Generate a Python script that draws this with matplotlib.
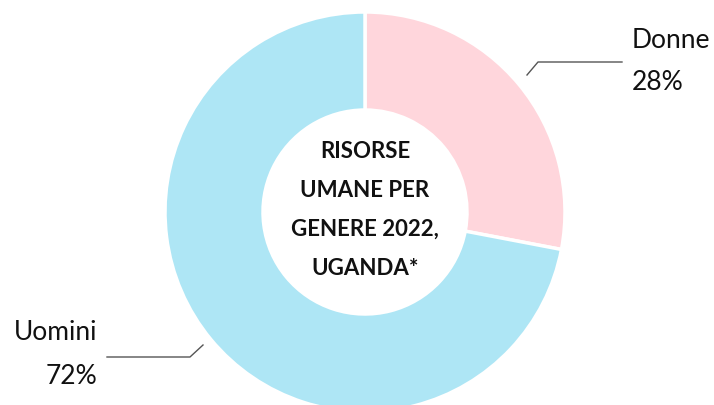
import matplotlib.pyplot as plt

# Risorse umane per genere, Uganda 2022
categorie = ['Donne', 'Uomini']
percentuali = [28, 72]
colori = ['#FFD6DC', '#AEE6F5']
titolo = 'RISORSE\nUMANE PER\nGENERE 2022,\nUGANDA*'

W, H = 714, 405
fig = plt.figure(figsize=(W / 100, H / 100), dpi=100)
ax = fig.add_axes([0, 0, 1, 1])
ax.set_xlim(0, W)
ax.set_ylim(0, H)
ax.set_aspect('equal')
ax.axis('off')

cx, cy, r = 365, H - 212, 200
ax.pie(percentuali, colors=colori, startangle=90, counterclock=False,
       center=(cx, cy), radius=r,
       wedgeprops=dict(width=r * 0.49, edgecolor='white', linewidth=2.5))
ax.set_xlim(0, W)
ax.set_ylim(0, H)

font = 'Lato'
ax.text(cx, cy + 2, titolo, ha='center', va='center', fontsize=16,
        fontweight='bold', family=font, linespacing=2.05, color='#111111')

# etichette con linee di richiamo
line_kw = dict(color='#555555', linewidth=1)
ax.plot([527, 538, 622], [H - 75, H - 62, H - 62], **line_kw)
ax.text(632, H - 40, categorie[0], ha='left', va='center', fontsize=19,
        family=font, color='#111111')
ax.text(632, H - 82, f'{percentuali[0]}%', ha='left', va='center',
        fontsize=19, family=font, color='#111111')

ax.plot([107, 190, 203], [H - 357, H - 357, H - 345], **line_kw)
ax.text(97, H - 333, categorie[1], ha='right', va='center', fontsize=19,
        family=font, color='#111111')
ax.text(97, H - 377, f'{percentuali[1]}%', ha='right', va='center',
        fontsize=19, family=font, color='#111111')

fig.savefig('out.png', dpi=100, facecolor='white')
